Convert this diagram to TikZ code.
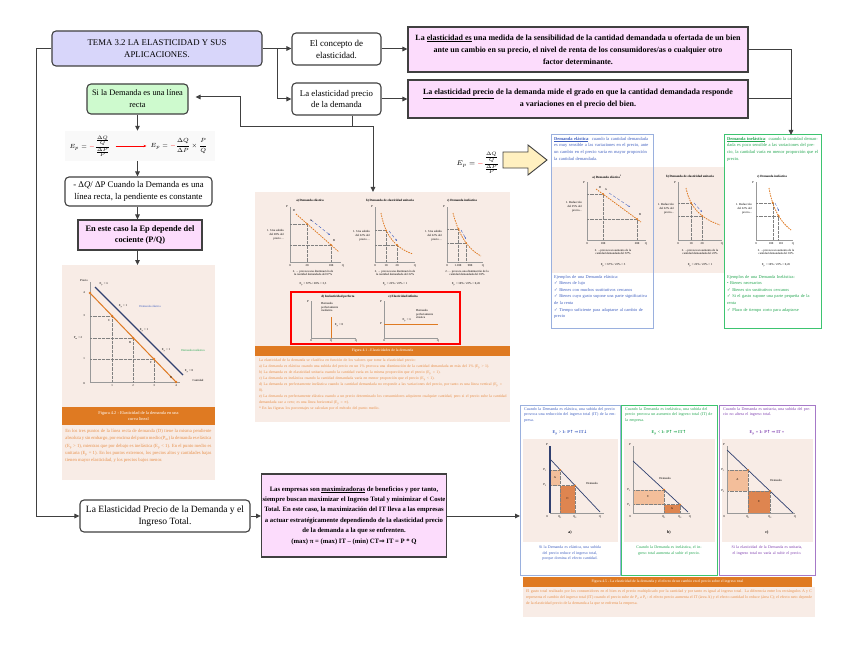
\documentclass[tikz,border=0pt]{standalone}
\usepackage{amsmath}
\usepackage{fontspec}
\setmainfont{Liberation Serif}
\newfontfamily\symfont{DejaVu Sans}
\usetikzlibrary{arrows.meta}
\newcommand{\chk}{{\symfont ✓}}
\definecolor{bord}{HTML}{404040}
\definecolor{lav}{HTML}{D8D6FA}
\definecolor{pinkb}{HTML}{FCDCFC}
\definecolor{greenb}{HTML}{CEFACE}
\definecolor{figbg}{HTML}{F8ECE6}
\definecolor{orng}{HTML}{DF7A22}
\definecolor{orngtxt}{HTML}{E8904A}
\definecolor{bluet}{HTML}{4060C0}
\definecolor{blueb}{HTML}{9AB0DE}
\definecolor{greent}{HTML}{22A650}
\definecolor{greenbd}{HTML}{3DC470}
\definecolor{purp}{HTML}{8040B0}
\definecolor{arrowfill}{HTML}{FFF0C0}
\definecolor{navy}{HTML}{304070}
\definecolor{rectL}{HTML}{F3BE9A}
\definecolor{rectD}{HTML}{DE8550}
\tikzset{
 conn/.style={draw=bord, line width=1bp, -{Triangle[length=5bp,width=4.5bp]}},
 plainl/.style={draw=bord, line width=1bp},
 wbox/.style={draw=bord, line width=1.1bp, rounded corners=4bp, fill=white, align=center, inner sep=1bp, font=\fontsize{9}{12}\selectfont},
 pbox/.style={draw=bord, line width=1.1bp, fill=pinkb, align=center, inner sep=1bp, font=\bfseries\fontsize{8}{12}\selectfont},
 tinyt/.style={inner sep=0pt, font=\fontsize{3}{3.8}\selectfont},
 ttl/.style={inner sep=0pt, font=\bfseries\fontsize{3.2}{4}\selectfont},
 axl/.style={draw=gray!80, line width=0.5bp},
 dem/.style={draw=orng, line width=0.8bp, dash pattern=on 1.5bp off 1bp},
 guidel/.style={draw=gray, line width=0.3bp, densely dotted},
 bluearr/.style={draw=bluet, line width=0.4bp, densely dashed, -{Stealth[length=2bp]}},
 banner/.style={fill=orng, text=white, align=center, inner sep=0pt, font=\fontsize{3.8}{4.8}\selectfont},
 figbox/.style={inner sep=0pt, outer sep=0pt},
}
\begin{document}
\begin{tikzpicture}[x=1bp,y=-1bp]
\useasboundingbox (0,0) rectangle (848,655);
\fill[white] (0,0) rectangle (848,655);

% ---------------- main boxes
\node[wbox, fill=lav, minimum width=210bp, minimum height=35bp, font=\fontsize{8.8}{12}\selectfont] (title) at (157,48.5) {TEMA 3.2 LA ELASTICIDAD Y SUS\\APLICACIONES.};
\node[wbox, minimum width=89bp, minimum height=32bp] (concept) at (336.5,49) {El concepto de\\elasticidad.};
\node[wbox, minimum width=89bp, minimum height=32bp, font=\fontsize{8.8}{12}\selectfont] (precio) at (336.5,99) {La elasticidad precio\\de la demanda};
\node[pbox, minimum width=340bp, minimum height=45bp] (def1) at (578,49.5) {La \underline{elasticidad es} una medida de la sensibilidad de la cantidad demandada u ofertada de un bien\\ ante un cambio en su precio, el nivel de renta de los consumidores/as o cualquier otro\\ factor determinante.};
\node[pbox, minimum width=340bp, minimum height=38bp] (def2) at (578,99) {\underline{La elasticidad precio} de la demanda mide el grado en que la cantidad demandada responde\\ a variaciones en el precio del bien.};
\node[wbox, fill=greenb, minimum width=101bp, minimum height=30bp, font=\fontsize{8.4}{12}\selectfont] (recta) at (137.5,99) {Si la Demanda es una línea\\recta};

% formula block
\node[fill=gray!5, minimum width=150bp, minimum height=30bp, inner sep=0pt] (fbg) at (140,146) {};
\node[inner sep=0pt, font=\fontsize{6.5}{8}\selectfont] (epl) at (90,146) {$E_p = {\color{red}-}\dfrac{\frac{\Delta Q}{Q}}{\frac{\Delta P}{P}}$};
\node[inner sep=0pt, font=\fontsize{6.5}{8}\selectfont] (epr) at (179,146) {$E_p = {\color{red}-}\dfrac{\Delta Q}{\Delta P}\times\dfrac{P}{Q}$};
\draw[red, line width=0.6bp, -{Stealth[length=3bp]}] (epl.east) ++(5,0) coordinate (ra) -- ([xshift=-4bp]ra -| epr.west);

\node[wbox, minimum width=147bp, minimum height=29bp, font=\fontsize{8.8}{11.5}\selectfont] (pend) at (138.5,191.5) {- Δ\textit{Q}/ ΔP Cuando la Demanda es una\\ línea recta, la pendiente es constante};
\node[pbox, minimum width=124bp, minimum height=30bp, font=\bfseries\fontsize{8.4}{11.5}\selectfont] (cociente) at (140,235) {En este caso la Ep depende del\\ cociente (P/Q)};

\node[wbox, minimum width=170bp, minimum height=32bp, font=\fontsize{9.6}{12.5}\selectfont] (ingreso) at (165,516) {La Elasticidad Precio de la Demanda y el\\ Ingreso Total.};
\node[pbox, minimum width=184bp, minimum height=83bp, font=\bfseries\fontsize{6.7}{10.4}\selectfont] (maxim) at (354,515.5) {Las empresas son \underline{maximizadoras} de beneficios y por tanto,\\ siempre buscan maximizar el Ingreso Total y minimizar el Coste\\ Total. En este caso, la maximización del IT lleva a las empresas\\ a actuar estratégicamente dependiendo de la elasticidad precio\\ de la demanda a la que se enfrenten.\\ (max) π = (max) IT – (min) CT{\symfont ⇒} IT = P * Q};

% ---------------- left figure (fig 4.2)
\node[figbox, fill=figbg, minimum width=153bp, minimum height=215bp] (fig2) at (138.5,372.5) {};
\draw[axl] (90,282) -- (90,382) -- (180,382);
\draw[guidel] (90,316) -- (112,316) -- (112,382);
\draw[guidel] (90,338) -- (133,338) -- (133,382);
\draw[guidel] (90,359) -- (154,359) -- (154,382);
\draw[navy, line width=1.1bp] (95,287) -- (183,375);
\draw[orng, line width=1bp] (90,293) -- (176,382);
\fill[orng] (90,293) circle (1.4) (112,316) circle (1.4) (133,338) circle (1.4) (154,359) circle (1.4) (176,382) circle (1.4);
\node[tinyt] at (84,281) {Precio};
\node[tinyt] at (84,293) {4};
\node[tinyt] at (84,316) {3};
\node[tinyt] at (78,338) {P\textsubscript{m} = 2};
\node[tinyt] at (84,359) {1};
\node[tinyt] at (84,384) {0};
\node[tinyt] at (112,386) {1};
\node[tinyt] at (133,386) {2};
\node[tinyt] at (154,386) {3};
\node[tinyt] at (176,386) {4};
\node[tinyt] at (104,284) {E\textsubscript{p} = ∞};
\node[tinyt] at (109,321) {C};
\node[tinyt] at (130,343) {B};
\node[tinyt] at (151,363) {F};
\node[tinyt] at (171,378) {D};
\node[tinyt] at (123,306) {E\textsubscript{p} > 1};
\node[tinyt, text=bluet] at (150,306) {Demanda elástica};
\node[tinyt] at (144,330) {E\textsubscript{p} = 1};
\node[tinyt] at (166,350) {E\textsubscript{p} < 1};
\node[tinyt, text=greent] at (193,350) {Demanda inelástica};
\node[tinyt] at (189,371) {E\textsubscript{p} = 0};
\node[tinyt] at (198,380) {Cantidad};
\node[banner, minimum width=153bp, minimum height=18bp, font=\fontsize{4.4}{5.8}\selectfont] (ban2) at (138.5,416) {Figura 4.2 - Elasticidad de la demanda en una\\ curva lineal};
\node[tinyt, text=orngtxt, text width=146bp, align=justify, anchor=north, font=\fontsize{4.7}{7.3}\selectfont] at (138.5,429) {En los tres puntos de la línea recta de demanda (D) tiene la misma pendiente absoluta y sin embargo, por encima del punto medio (P\textsubscript{m}) la demanda es elástica (E\textsubscript{p} > 1), mientras que por debajo es inelástica (E\textsubscript{p} < 1). En el punto medio es unitaria (E\textsubscript{p} = 1). En los puntos extremos, los precios altos y cantidades bajas tienen mayor elasticidad, y los precios bajos menor.};

% ---------------- middle figure (fig 4.1)
\node[figbox, fill=figbg, minimum width=255bp, minimum height=230bp] (fig1) at (382.5,307) {};
% a
\node[ttl] at (310,201) {a) Demanda elástica};
\draw[axl] (290,207) -- (290,262) -- (341,262);
\draw[guidel] (290,224) -- (307,224) -- (307,262);
\draw[guidel] (290,245) -- (331,245) -- (331,262);
\draw[dem] (296,214) -- (339,252);
\draw[bluearr] (311,220) -- (330,235);
\fill[orng] (307,224) circle (1) (331,245) circle (1);
\node[tinyt] at (294,211) {D};
\node[tinyt] at (311,221) {A};
\node[tinyt] at (334,241) {B};
\node[tinyt] at (287,207) {P};
\node[tinyt, anchor=east, align=right] at (284,235) {1. Una subida\\ del 20\% del\\ precio ...};
\node[tinyt] at (290,266) {0};
\node[tinyt] at (307,266) {20};
\node[tinyt] at (331,266) {100};
\node[tinyt] at (343,266) {Q};
\node[tinyt, align=center] at (313,273) {2. ... provoca una disminución de\\ la cantidad demandada del 67\%};
\node[tinyt] at (313,284) {E\textsubscript{p} = 67\% / 20\% = 3,3};
% b
\node[ttl] at (390,201) {b) Demanda de elasticidad unitaria};
\draw[axl] (375,207) -- (375,262) -- (415,262);
\draw[guidel] (375,230.5) -- (386,230.5) -- (386,262);
\draw[guidel] (375,245) -- (397,245) -- (397,262);
\draw[dem] (381,213) .. controls (385,235) and (395,248) .. (413,254);
\draw[bluearr] (389,231) -- (397,241);
\fill[orng] (386,230.5) circle (1) (397,245) circle (1);
\node[tinyt] at (372,207) {P};
\node[tinyt, anchor=east, align=right] at (370,236) {1. Una subida\\ del 22\% del\\ precio ...};
\node[tinyt] at (375,266) {0};
\node[tinyt] at (386,266) {10};
\node[tinyt] at (397,266) {20};
\node[tinyt] at (415,266) {Q};
\node[tinyt, align=center] at (395,273) {2. ... provoca una disminución de\\ la cantidad demandada del 22\%};
\node[tinyt] at (395,284) {E\textsubscript{p} = 22\% / 22\% = 1};
% c
\node[ttl] at (462,201) {c) Demanda inelástica};
\draw[axl] (447,207) -- (447,262) -- (483,262);
\draw[guidel] (447,229) -- (458.5,229) -- (458.5,262);
\draw[guidel] (447,243) -- (466,243) -- (466,262);
\draw[dem] (453,213) .. controls (458,232) and (466,248) .. (481,256);
\draw[bluearr] (461,230) -- (466,239);
\fill[orng] (458.5,229) circle (1) (466,243) circle (1);
\node[tinyt] at (444,207) {P};
\node[tinyt, anchor=east, align=right] at (442,236) {1. Una subida\\ del 22\% del\\ precio ...};
\node[tinyt] at (447,266) {0};
\node[tinyt] at (458,266) {1.100};
\node[tinyt] at (470,266) {900};
\node[tinyt] at (483,266) {Q};
\node[tinyt, align=center] at (467,273) {2. ... provoca una disminución de la\\ cantidad demandada del 10\%};
\node[tinyt] at (466,284) {E\textsubscript{p} = 10\% / 22\% = 0,45};
% red box d, e
\draw[red, line width=1.2bp] (291,292) rectangle (460,344);
\node[ttl] at (338,297) {d) Inelasticidad perfecta};
\draw[axl] (311,301) -- (311,338) -- (356,338);
\draw[orng, line width=0.8bp] (331,317) -- (331,338);
\node[tinyt] at (308,302) {P};
\node[tinyt] at (311,341) {0};
\node[tinyt] at (331,341) {Q};
\node[tinyt] at (356,341) {Q};
\node[tinyt, anchor=north west, align=left] at (321,302) {Demanda\\ perfectamente\\ inelástica};
\node[tinyt] at (339,325) {E\textsubscript{p} = 0};
\node[ttl] at (403,297) {e) Elasticidad infinita};
\draw[axl] (384,301) -- (384,338) -- (438,338);
\draw[orng, line width=0.8bp] (384,324) -- (438,324);
\node[tinyt] at (381,302) {P};
\node[tinyt] at (381,324) {P};
\node[tinyt] at (384,341) {0};
\node[tinyt] at (438,341) {Q};
\node[tinyt, anchor=north west, align=left] at (416,309) {Demanda\\ perfectamente\\ elástica};
\node[tinyt] at (407,320) {E\textsubscript{p} = ∞};
\node[banner, minimum width=255bp, minimum height=10bp] at (382.5,351) {Figura 4.1 - Elasticidades de la demanda};
\node[tinyt, text=orngtxt, text width=248bp, align=left, anchor=north, font=\fontsize{3.9}{6}\selectfont] at (383,359) {La elasticidad de la demanda se clasifica en función de los valores que tome la elasticidad precio:\\
a) La demanda es elástica cuando una subida del precio en un 1\% provoca una disminución de la cantidad demandada en más del 1\% (E\textsubscript{p} > 1).\\
b) La demanda es de elasticidad unitaria cuando la cantidad varía en la misma proporción que el precio (E\textsubscript{p} = 1).\\
c) La demanda es inelástica cuando la cantidad demandada varía en menor proporción que el precio (E\textsubscript{p} < 1).\\
d) La demanda es perfectamente inelástica cuando la cantidad demandada no responde a las variaciones del precio, por tanto es una línea vertical (E\textsubscript{p} = 0).\\
e) La demanda es perfectamente elástica cuando a un precio determinado los consumidores adquieren cualquier cantidad, pero si el precio sube la cantidad demandada cae a cero; es una línea horizontal (E\textsubscript{p} = ∞).\\
* En las figuras los porcentajes se calculan por el método del punto medio.};

% ---------------- arrow and Ep formula
\node[inner sep=0pt, font=\fontsize{7}{8}\selectfont] (epbig) at (478,163) {$E_p = {\color{red}-}\dfrac{\frac{\Delta Q}{Q}}{\frac{\Delta P}{P}}$};
\draw[draw=bord, fill=arrowfill, line width=0.9bp, line join=miter] (503,152) -- (528,152) -- (528,145) -- (547,160) -- (528,175) -- (528,168) -- (503,168) -- cycle;

% ---------------- top right figure
\fill[figbg] (552,167) rectangle (724,273);
\node[figbox, draw=blueb, line width=1bp, minimum width=102bp, minimum height=193bp] (fig3b) at (602,231.5) {};
\node[figbox, draw=greenbd, line width=1bp, minimum width=97bp, minimum height=193bp] (fig3g) at (772.5,231.5) {};
\node[tinyt, text=bluet, text width=97bp, align=left, anchor=north west, font=\fontsize{4.5}{6.6}\selectfont] at (554,137) {\textbf{\underline{Demanda elástica}}: cuando la cantidad demandada es muy sensible a las variaciones en el precio, ante un cambio en el precio varía en mayor proporción la cantidad demandada.};
\node[tinyt, text=greent, text width=92bp, align=left, anchor=north west, font=\fontsize{4.5}{6.6}\selectfont] at (727,137) {\textbf{\underline{Demanda inelástica}}: cuando la cantidad demandada es poco sensible a las variaciones del precio, la cantidad varía en menor proporción que el precio.};
% a
\node[ttl] at (607,177) {a) Demanda elástica\textsuperscript{1}};
\draw[axl] (587,182) -- (587,240) -- (646,240);
\draw[guidel] (587,194) -- (603,194) -- (603,240);
\draw[guidel] (587,219) -- (637,219) -- (637,240);
\draw[dem] (596,189) -- (641,222);
\draw[bluearr] (609,193) -- (630,207);
\fill[orng] (603,194) circle (1) (637,219) circle (1);
\node[tinyt] at (584,183) {P};
\node[tinyt] at (600,188) {D};
\node[tinyt] at (606,190) {A};
\node[tinyt] at (640,215) {B};
\node[tinyt, anchor=east, align=right] at (582,207) {1. Reducción\\ del 25\% del\\ precio...};
\node[tinyt] at (587,244) {0};
\node[tinyt] at (603,244) {100};
\node[tinyt] at (637,244) {200};
\node[tinyt] at (646,244) {Q};
\node[tinyt, align=center] at (613,252) {2. ...provoca un aumento de la\\ cantidad demandada del 67\%};
\node[tinyt] at (613,265) {E\textsubscript{p} = 67\% / 22\% = 3};
% b
\node[ttl] at (690,177) {b) Demanda de elasticidad unitaria};
\draw[axl] (678,182) -- (678,240) -- (722,240);
\draw[guidel] (678,203) -- (691,203) -- (691,240);
\draw[guidel] (678,216) -- (702,216) -- (702,240);
\draw[dem] (686,188) .. controls (690,207) and (700,218) .. (720,225);
\draw[bluearr] (694,203) -- (702,212);
\fill[orng] (691,203) circle (1) (702,216) circle (1);
\node[tinyt] at (675,183) {P};
\node[tinyt, anchor=east, align=right] at (674,209) {1. Reducción\\ del 22\% del\\ precio...};
\node[tinyt] at (678,244) {0};
\node[tinyt] at (691,244) {10};
\node[tinyt] at (702,244) {20};
\node[tinyt] at (722,244) {Q};
\node[tinyt, align=center] at (700,252) {2. ...provoca un aumento de la\\ cantidad demandada del 22\%};
\node[tinyt] at (700,265) {E\textsubscript{p} = 22\% / 22\% = 1};
% c
\node[ttl] at (772,177) {c) Demanda inelástica};
\draw[axl] (756,182) -- (756,240) -- (793,240);
\draw[guidel] (756,202.7) -- (772.7,202.7) -- (772.7,240);
\draw[guidel] (756,215.7) -- (778.5,215.7) -- (778.5,240);
\draw[dem] (769,188) .. controls (772,205) and (778,220) .. (791,230);
\draw[bluearr] (775,203) -- (779,211);
\fill[orng] (772.7,202.7) circle (1) (778.5,215.7) circle (1);
\node[tinyt] at (753,183) {P};
\node[tinyt, anchor=east, align=right] at (752,209) {1. Reducción\\ del 22\% del\\ precio...};
\node[tinyt] at (756,244) {0};
\node[tinyt] at (771,244) {100};
\node[tinyt] at (781,244) {110};
\node[tinyt] at (793,244) {Q};
\node[tinyt, align=center] at (776,252) {2. ...provoca un aumento de la\\ cantidad demandada del 10\%};
\node[tinyt] at (776,265) {E\textsubscript{p} = 10\% / 22\% = 0,45};
\node[tinyt, text=bluet, text width=97bp, align=left, anchor=north west, font=\fontsize{4.4}{6.6}\selectfont] at (554,275) {Ejemplos de una Demanda elástica:\\ \chk\ Bienes de lujo\\ \chk\ Bienes con muchos sustitutivos cercanos\\ \chk\ Bienes cuyo gasto supone una parte significativa de la renta\\ \chk\ Tiempo suficiente para adaptarse al cambio de precio};
\node[tinyt, text=greent, text width=92bp, align=left, anchor=north west, font=\fontsize{4.4}{6.6}\selectfont] at (727,275) {Ejemplos de una Demanda Inelástica:\\ • Bienes necesarios\\ \chk\ Bienes sin sustitutivos cercanos\\ \chk\ Si el gasto supone una parte pequeña de la renta\\ \chk\ Plazo de tiempo corto para adaptarse};

% ---------------- bottom right figure (fig 4.5)
\fill[figbg] (523,439) rectangle (618,542);
\fill[figbg] (624,439) rectangle (715,542);
\fill[figbg] (722,439) rectangle (813,542);
\node[figbox, draw=blueb, line width=1bp, minimum width=100bp, minimum height=170bp] (fig5a) at (570,490) {};
\node[figbox, draw=greenbd, line width=1bp, minimum width=96bp, minimum height=170bp] (fig5b) at (669,490) {};
\node[figbox, draw=purp!70, line width=1bp, minimum width=96bp, minimum height=170bp] (fig5c) at (767,490) {};
\node[tinyt, text=bluet, text width=92bp, align=left, anchor=north west, font=\fontsize{4.1}{5.8}\selectfont] at (524,407) {Cuando la Demanda es elástica, una subida del precio provoca una reducción del ingreso total (IT) de la empresa.};
\node[tinyt, text=greent, text width=88bp, align=left, anchor=north west, font=\fontsize{4.1}{5.8}\selectfont] at (625,407) {Cuando la Demanda es inelástica, una subida del precio provoca un aumento del ingreso total (IT) de la empresa.};
\node[tinyt, text=purp, text width=88bp, align=left, anchor=north west, font=\fontsize{4.1}{5.8}\selectfont] at (723,407) {Cuando la Demanda es unitaria, una subida del precio no altera el ingreso total.};
\node[tinyt, text=bluet, font=\bfseries\fontsize{4.3}{5}\selectfont] at (570,433) {E\textsubscript{p} > 1: P{\symfont ↑} {\symfont ⇒} IT{\symfont ↓}};
\node[tinyt, text=greent, font=\bfseries\fontsize{4.3}{5}\selectfont] at (669,433) {E\textsubscript{p} < 1: P{\symfont ↑} {\symfont ⇒} IT{\symfont ↑}};
\node[tinyt, text=purp, font=\bfseries\fontsize{4.3}{5}\selectfont] at (767,433) {E\textsubscript{p} = 1: P{\symfont ↑} {\symfont ⇒} IT =};
% chart a
\fill[rectL] (550,470) rectangle (560,485.5);
\fill[rectD] (560,485.5) rectangle (575,513);
\draw[guidel] (550,470) -- (560,470) -- (560,513);
\draw[guidel] (550,485.5) -- (575,485.5) -- (575,513);
\draw[navy, line width=1.5bp] (550,446) -- (550,513);
\draw[axl] (550,513) -- (604,513);
\draw[navy, line width=0.7bp] (550,459) -- (600,512);
\fill[orng] (560,470) circle (1) (575,485.5) circle (1);
\node[tinyt] at (547,445) {P};
\node[tinyt] at (545,470) {P\textsubscript{1}};
\node[tinyt] at (545,485.5) {P\textsubscript{2}};
\node[tinyt] at (547,517) {0};
\node[tinyt] at (560,517) {Q\textsubscript{1}};
\node[tinyt] at (575,517) {Q\textsubscript{2}};
\node[tinyt] at (600,517) {Q};
\node[tinyt] at (555,478) {A};
\node[tinyt] at (567.5,499) {C};
\node[tinyt] at (592,483) {Demanda};
% chart b
\fill[rectL] (633,489.7) rectangle (664,504.6);
\fill[rectD] (664,504.6) rectangle (680,513);
\draw[guidel] (633,489.7) -- (664,489.7) -- (664,513);
\draw[guidel] (633,504.6) -- (680,504.6) -- (680,513);
\draw[axl] (633,446) -- (633,513) -- (690,513);
\draw[navy, line width=0.7bp] (633,461) -- (688,512);
\fill[orng] (664,489.7) circle (1) (680,504.6) circle (1);
\node[tinyt] at (630,445) {P};
\node[tinyt] at (629,489.7) {P\textsubscript{1}};
\node[tinyt] at (629,504.6) {P\textsubscript{2}};
\node[tinyt] at (630,517) {0};
\node[tinyt] at (664,517) {Q\textsubscript{1}};
\node[tinyt] at (680,517) {Q\textsubscript{2}};
\node[tinyt] at (690,517) {Q};
\node[tinyt] at (648,497) {C};
\node[tinyt] at (672,509) {A};
\node[tinyt] at (665,478) {Demanda};
% chart c
\fill[rectL] (727,470) rectangle (748,491);
\fill[rectD] (748,491) rectangle (770,513);
\draw[guidel] (727,470) -- (748,470) -- (748,513);
\draw[guidel] (727,491) -- (770,491) -- (770,513);
\draw[axl] (727,446) -- (727,513) -- (795,513);
\draw[navy, line width=0.7bp] (727,450) -- (793,513);
\fill[orng] (748,470) circle (1) (770,491) circle (1);
\node[tinyt] at (724,445) {P};
\node[tinyt] at (723,470) {P\textsubscript{1}};
\node[tinyt] at (723,491) {P\textsubscript{2}};
\node[tinyt] at (724,517) {0};
\node[tinyt] at (748,517) {Q\textsubscript{1}};
\node[tinyt] at (770,517) {Q\textsubscript{2}};
\node[tinyt] at (795,517) {Q};
\node[tinyt] at (737.5,480) {A};
\node[tinyt] at (759,502) {C};
\node[tinyt] at (776,480) {Demanda};
\node[tinyt, font=\bfseries\fontsize{4}{5}\selectfont] at (570,533) {a)};
\node[tinyt, font=\bfseries\fontsize{4}{5}\selectfont] at (669,533) {b)};
\node[tinyt, font=\bfseries\fontsize{4}{5}\selectfont] at (767,533) {c)};
\node[tinyt, text=bluet, text width=78bp, align=center, anchor=north, font=\fontsize{4}{5.4}\selectfont] at (570,546) {Si la Demanda es elástica, una subida del precio reduce el ingreso total, porque domina el efecto cantidad.};
\node[tinyt, text=greent, text width=78bp, align=center, anchor=north, font=\fontsize{4}{5.4}\selectfont] at (669,546) {Cuando la Demanda es inelástica, el ingreso total aumenta al subir el precio.};
\node[tinyt, text=purp, text width=78bp, align=center, anchor=north, font=\fontsize{4}{5.4}\selectfont] at (767,546) {Si la elasticidad de la Demanda es unitaria, el ingreso total no varía al subir el precio.};
\node[banner, minimum width=289bp, minimum height=10bp, font=\fontsize{3.8}{4.5}\selectfont] (ban5) at (667.5,582) {Figura 4.5 - La elasticidad de la demanda y el efecto de un cambio en el precio sobre el ingreso total};
\fill[figbg] (523,587) rectangle (815,617);
\node[tinyt, text=orngtxt, text width=286bp, align=justify, anchor=north, font=\fontsize{4}{6.2}\selectfont] at (669,589) {El gasto total realizado por los consumidores en el bien es el precio multiplicado por la cantidad y por tanto es igual al ingreso total. La diferencia entre los rectángulos A y C representa el cambio del ingreso total (IT) cuando el precio sube de P\textsubscript{2} a P\textsubscript{1}: el efecto precio aumenta el IT (área A) y el efecto cantidad lo reduce (área C); el efecto neto depende de la elasticidad precio de la demanda a la que se enfrenta la empresa.};

% ---------------- connectors
\coordinate (j1) at (277,48.5);
\draw[conn] (title.east) -- (concept.west |- title.east);
\draw[conn] (j1) |- (precio.west);
\coordinate (lft) at (36,48.5);
\draw[plainl] (title.west) -- (lft);
\draw[conn] (lft) |- (ingreso.west);
\draw[conn] (concept.east) -- (def1.west |- concept.east);
\draw[conn] (precio.east) -- (def2.west |- precio.east);
\coordinate (r1) at (791,49.5);
\draw[plainl] (def1.east) -- (r1);
\draw[conn] (r1) -- (r1 |- fig3g.north);
\draw[plainl] (def2.east) -- (def2.east -| r1);
\coordinate (pb) at (352,127);
\draw[plainl] (precio.south -| pb) -- (pb);
\coordinate (pl) at (240,127);
\coordinate (pl2) at (240,97);
\draw[conn, shorten >=7bp] (pb) -- (pl) -- (pl2) -- (recta.east |- pl2);
\coordinate (pr) at (373,127);
\draw[conn] (pb) -- (pr) -- (pr |- fig1.north);
\draw[conn] (recta.south) -- (recta.south |- fbg.north);
\draw[conn] (recta.south |- fbg.south) -- (recta.south |- pend.north);
\draw[conn] (recta.south |- pend.south) -- (recta.south |- cociente.north);
\draw[conn] (recta.south |- cociente.south) -- (recta.south |- fig2.north);
\draw[conn] (ingreso.east) -- (maxim.west |- ingreso.east);
\draw[conn] (maxim.east |- ingreso.east) -- (fig5a.west |- ingreso.east);
\end{tikzpicture}
\end{document}
